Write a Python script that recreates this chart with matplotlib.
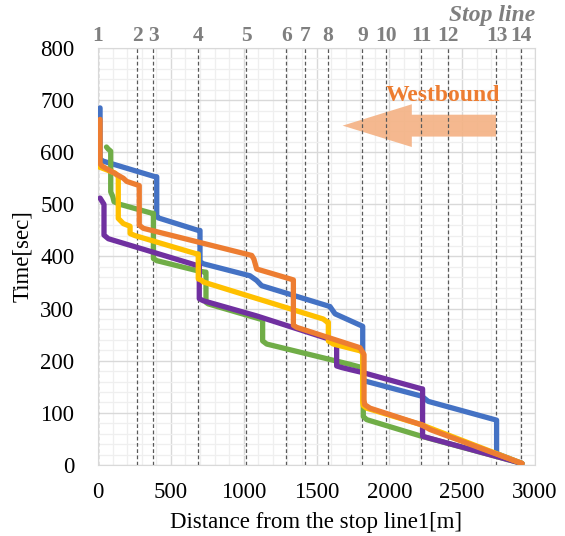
import matplotlib
matplotlib.use("Agg")
import matplotlib.pyplot as plt
from matplotlib.patches import FancyArrow
from matplotlib.ticker import MultipleLocator

plt.rcParams['font.family'] = ['Liberation Serif', 'DejaVu Serif']

# stop line positions [m] and their numbers
stop_pos = [0, 268, 378, 686, 1018, 1293, 1421, 1579, 1815, 1975, 2220, 2403, 2735, 2906]
stop_names = ['1', '2', '3', '4', '5', '6', '7', '8', '9', '10', '11', '12', '13', '14']

# vehicle trajectories (distance [m], time [sec])
blue_x = [2910, 2736, 2736, 2267, 2222, 1833, 1817, 1817, 1627, 1592, 1123, 1089, 1043,
          723, 700, 700, 688, 414, 403, 403, 391, 34, 14, 14]
blue_t = [3, 22, 86, 122, 132, 161, 166, 266, 290, 304, 344, 354, 363,
          386, 390, 450, 450, 474, 477, 553, 553, 583, 587, 685]

green_x = [2910, 2222, 1844, 1821, 1821, 1810, 1730, 1158, 1130, 1130, 1112, 757, 741,
           741, 734, 677, 403, 380, 380, 369, 151, 110, 101, 87, 87, 70, 58]
green_t = [3, 55, 87, 93, 187, 187, 193, 232, 238, 280, 280, 309, 312,
           370, 370, 373, 392, 396, 483, 483, 500, 505, 515, 524, 602, 606, 610]

purple_x = [2910, 2267, 2228, 2228, 2222, 1821, 1730, 1672, 1638, 1638, 1633, 1592, 1089,
            723, 695, 695, 677, 369, 71, 41, 41, 14]
purple_t = [3, 52, 55, 146, 146, 177, 183, 187, 190, 235, 235, 241, 286,
            315, 319, 383, 383, 409, 434, 441, 500, 512]

yellow_x = [2910, 2222, 1844, 1820, 1817, 1817, 1800, 1615, 1581, 1581, 1574, 1546, 723,
            712, 688, 688, 677, 254, 220, 220, 174, 139, 139, 117, 5]
yellow_t = [3, 77, 109, 114, 120, 215, 219, 232, 238, 274, 274, 280, 351,
            354, 357, 405, 405, 440, 444, 458, 463, 473, 553, 560, 572]

orange_x = [2910, 2279, 2222, 1867, 1830, 1826, 1826, 1798, 1364, 1341, 1341, 1318, 1089,
            1070, 1055, 311, 283, 283, 197, 174, 30, 14, 14]
orange_t = [3, 68, 77, 109, 116, 125, 212, 225, 264, 268, 355, 357, 376,
            395, 402, 454, 460, 536, 544, 550, 573, 578, 663]

series = [
    (blue_x, blue_t, '#4472C4'),
    (green_x, green_t, '#70AD47'),
    (purple_x, purple_t, '#7030A0'),
    (yellow_x, yellow_t, '#FFC000'),
    (orange_x, orange_t, '#ED7D31'),
]

fig = plt.figure(figsize=(5.65, 5.36), dpi=100)
ax = fig.add_axes([0.1735, 0.1325, 0.7735, 0.778])

ax.set_xlim(0, 3000)
ax.set_ylim(0, 800)
ax.xaxis.set_major_locator(MultipleLocator(500))
ax.xaxis.set_minor_locator(MultipleLocator(100))
ax.yaxis.set_major_locator(MultipleLocator(100))
ax.yaxis.set_minor_locator(MultipleLocator(20))
ax.grid(which='major', color='#D9D9D9', lw=1.0, zorder=0)
ax.grid(which='minor', color='#EFEFEF', lw=0.9, zorder=0)
ax.set_axisbelow(True)
ax.tick_params(which='both', length=0, labelsize=16.5)
ax.tick_params(axis='y', pad=17)
ax.tick_params(axis='x', pad=12)
for s in ax.spines.values():
    s.set_color('#D9D9D9')

# direction arrow
arr = FancyArrow(2732, 651, 1679 - 2732, 0, width=42, head_width=82, head_length=475,
                 length_includes_head=True, color='#F4B183', lw=0, alpha=0.9, zorder=1)
ax.add_patch(arr)
ax.text(2368, 708, 'Westbound', color='#ED7D31', fontsize=17, fontweight='bold',
        ha='center', va='center', zorder=6)

# stop lines
for p, name in zip(stop_pos, stop_names):
    ax.axvline(p, color='#595959', lw=0.9, ls=(0, (3, 2)), zorder=2)
    ax.text(p, 803, name, color='#7F7F7F', fontsize=15.5, fontweight='bold',
            ha='center', va='bottom')
ax.text(2705, 842, 'Stop line', color='#7F7F7F', fontsize=17, fontweight='bold',
        style='italic', ha='center', va='bottom')

for x, t, c in series:
    ax.plot(x, t, color=c, lw=3.8, solid_joinstyle='round', solid_capstyle='round', zorder=3)

ax.set_xlabel('Distance from the stop line1[m]', fontsize=16.5, labelpad=7)
ax.set_ylabel('Time[sec]', fontsize=16.5, labelpad=5)

fig.savefig('out.png', dpi=100)
